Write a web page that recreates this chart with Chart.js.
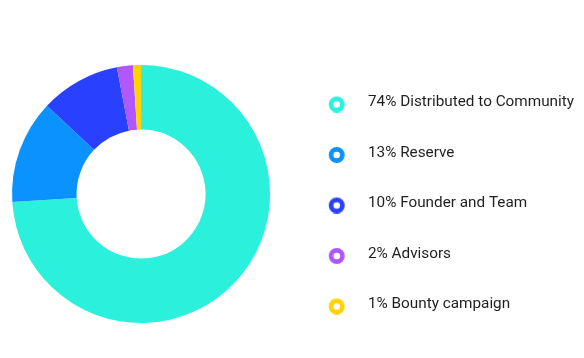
<!DOCTYPE html>
<html>
<head>
<meta charset="utf-8">
<script src="https://cdn.jsdelivr.net/npm/chart.js@4"></script>
<style>
  body { margin: 0; background: #fff; overflow: hidden; }
  #chart-container { width: 598px; height: 358px; margin-left: -14px; }
</style>
</head>
<body>
<div id="chart-container"><canvas id="chart-tokens"></canvas></div>
<script>
const share_labels = ['74% Distributed to Community', '13% Reserve', '10% Founder and Team', '2% Advisors', '1% Bounty campaign'];
const share_values = [74, 13, 10, 2, 1];
const share_colors = ['#2af0dc', '#0a93ff', '#2a40ff', '#b057ff', '#ffd200'];

// little ring icon for the legend, drawn on its own canvas
// (ring sits left of the image centre so it lines up with the reference)
function ring_icon(color){
    let c = document.createElement('canvas');
    c.width = 56;
    c.height = 20;
    let g = c.getContext('2d');
    g.beginPath();
    g.arc(18.85, 12, 5.65, 0, Math.PI * 2);
    g.lineWidth = 4.7;
    g.strokeStyle = color;
    g.stroke();
    return c;
}
const icons = share_colors.map(col => ring_icon(col));

function init(){
    let ctx = document.getElementById('chart-tokens');
    let chart = new Chart(ctx, {
        type: 'doughnut',
        data: {
            labels: share_labels,
            datasets: [{
                data: share_values,
                backgroundColor: share_colors,
                borderWidth: 0
            }]
        },
        options: {
            responsive: true,
            maintainAspectRatio: false,
            animation: false,
            radius: 129,
            cutout: '50%',
            layout: { padding: { top: 30, bottom: 0, left: 0, right: 0 } },
            plugins: {
                tooltip: { enabled: false },
                legend: {
                    position: 'right',
                    align: 'center',
                    title: { display: true, text: ' ', padding: 0, font: { size: 10, lineHeight: 1.9 } },
                    labels: {
                        usePointStyle: true,
                        pointStyleWidth: 29,
                        padding: 35.2,
                        color: '#1f1f1f',
                        font: { family: 'Roboto', size: 15.3 },
                        generateLabels: function(chart){
                            let items = Chart.overrides.doughnut.plugins.legend.labels.generateLabels(chart);
                            items.forEach((it, i) => {
                                it.pointStyle = icons[i];
                                it.fontColor = '#1f1f1f';
                            });
                            return items;
                        }
                    }
                }
            }
        }
    });
}

init();
</script>
</body>
</html>
